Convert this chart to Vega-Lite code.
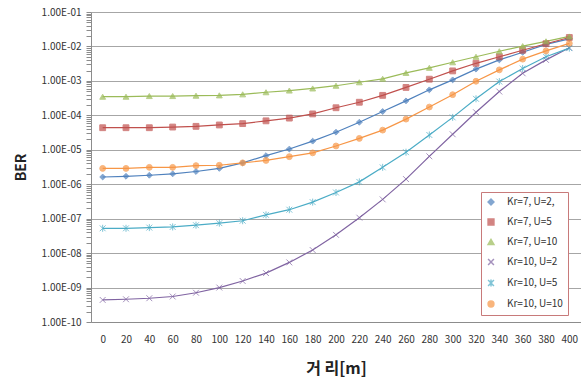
{
  "$schema": "https://vega.github.io/schema/vega-lite/v6.json",
  "autosize": "none",
  "width": 490,
  "height": 310,
  "padding": {"left": 91, "top": 12, "right": 0, "bottom": 60},
  "background": "white",
  "config": {
    "view": {"stroke": null},
    "font": "Noto Sans CJK KR",
    "axis": {"labelFont": "Noto Sans CJK KR", "titleFont": "Noto Sans CJK KR", "labelColor": "#333333", "titleColor": "#222222"}
  },
  "data": {"values": [
    {"s":"Kr=7, U=2,","d":0,"v":1.62e-6},{"s":"Kr=7, U=2,","d":20,"v":1.70e-6},{"s":"Kr=7, U=2,","d":40,"v":1.82e-6},{"s":"Kr=7, U=2,","d":60,"v":2.00e-6},{"s":"Kr=7, U=2,","d":80,"v":2.34e-6},{"s":"Kr=7, U=2,","d":100,"v":2.88e-6},{"s":"Kr=7, U=2,","d":120,"v":4.17e-6},{"s":"Kr=7, U=2,","d":140,"v":6.76e-6},{"s":"Kr=7, U=2,","d":160,"v":1.05e-5},{"s":"Kr=7, U=2,","d":180,"v":1.78e-5},{"s":"Kr=7, U=2,","d":200,"v":3.24e-5},{"s":"Kr=7, U=2,","d":220,"v":6.31e-5},{"s":"Kr=7, U=2,","d":240,"v":1.29e-4},{"s":"Kr=7, U=2,","d":260,"v":2.63e-4},{"s":"Kr=7, U=2,","d":280,"v":5.50e-4},{"s":"Kr=7, U=2,","d":300,"v":1.07e-3},{"s":"Kr=7, U=2,","d":320,"v":2.19e-3},{"s":"Kr=7, U=2,","d":340,"v":4.07e-3},{"s":"Kr=7, U=2,","d":360,"v":6.76e-3},{"s":"Kr=7, U=2,","d":380,"v":1.15e-2},{"s":"Kr=7, U=2,","d":400,"v":1.66e-2},
    {"s":"Kr=7, U=5","d":0,"v":4.37e-5},{"s":"Kr=7, U=5","d":20,"v":4.37e-5},{"s":"Kr=7, U=5","d":40,"v":4.37e-5},{"s":"Kr=7, U=5","d":60,"v":4.57e-5},{"s":"Kr=7, U=5","d":80,"v":4.79e-5},{"s":"Kr=7, U=5","d":100,"v":5.25e-5},{"s":"Kr=7, U=5","d":120,"v":5.75e-5},{"s":"Kr=7, U=5","d":140,"v":6.92e-5},{"s":"Kr=7, U=5","d":160,"v":8.32e-5},{"s":"Kr=7, U=5","d":180,"v":1.10e-4},{"s":"Kr=7, U=5","d":200,"v":1.66e-4},{"s":"Kr=7, U=5","d":220,"v":2.40e-4},{"s":"Kr=7, U=5","d":240,"v":3.80e-4},{"s":"Kr=7, U=5","d":260,"v":6.46e-4},{"s":"Kr=7, U=5","d":280,"v":1.12e-3},{"s":"Kr=7, U=5","d":300,"v":1.95e-3},{"s":"Kr=7, U=5","d":320,"v":3.24e-3},{"s":"Kr=7, U=5","d":340,"v":5.01e-3},{"s":"Kr=7, U=5","d":360,"v":7.76e-3},{"s":"Kr=7, U=5","d":380,"v":1.20e-2},{"s":"Kr=7, U=5","d":400,"v":1.82e-2},
    {"s":"Kr=7, U=10","d":0,"v":3.47e-4},{"s":"Kr=7, U=10","d":20,"v":3.47e-4},{"s":"Kr=7, U=10","d":40,"v":3.63e-4},{"s":"Kr=7, U=10","d":60,"v":3.63e-4},{"s":"Kr=7, U=10","d":80,"v":3.72e-4},{"s":"Kr=7, U=10","d":100,"v":3.80e-4},{"s":"Kr=7, U=10","d":120,"v":4.07e-4},{"s":"Kr=7, U=10","d":140,"v":4.68e-4},{"s":"Kr=7, U=10","d":160,"v":5.25e-4},{"s":"Kr=7, U=10","d":180,"v":6.03e-4},{"s":"Kr=7, U=10","d":200,"v":7.24e-4},{"s":"Kr=7, U=10","d":220,"v":9.12e-4},{"s":"Kr=7, U=10","d":240,"v":1.15e-3},{"s":"Kr=7, U=10","d":260,"v":1.70e-3},{"s":"Kr=7, U=10","d":280,"v":2.40e-3},{"s":"Kr=7, U=10","d":300,"v":3.47e-3},{"s":"Kr=7, U=10","d":320,"v":5.01e-3},{"s":"Kr=7, U=10","d":340,"v":7.24e-3},{"s":"Kr=7, U=10","d":360,"v":1.02e-2},{"s":"Kr=7, U=10","d":380,"v":1.41e-2},{"s":"Kr=7, U=10","d":400,"v":1.95e-2},
    {"s":"Kr=10, U=2","d":0,"v":4.37e-10},{"s":"Kr=10, U=2","d":20,"v":4.57e-10},{"s":"Kr=10, U=2","d":40,"v":4.90e-10},{"s":"Kr=10, U=2","d":60,"v":5.50e-10},{"s":"Kr=10, U=2","d":80,"v":7.08e-10},{"s":"Kr=10, U=2","d":100,"v":1.00e-9},{"s":"Kr=10, U=2","d":120,"v":1.55e-9},{"s":"Kr=10, U=2","d":140,"v":2.63e-9},{"s":"Kr=10, U=2","d":160,"v":5.37e-9},{"s":"Kr=10, U=2","d":180,"v":1.23e-8},{"s":"Kr=10, U=2","d":200,"v":3.39e-8},{"s":"Kr=10, U=2","d":220,"v":1.07e-7},{"s":"Kr=10, U=2","d":240,"v":3.63e-7},{"s":"Kr=10, U=2","d":260,"v":1.41e-6},{"s":"Kr=10, U=2","d":280,"v":6.46e-6},{"s":"Kr=10, U=2","d":300,"v":2.82e-5},{"s":"Kr=10, U=2","d":320,"v":1.23e-4},{"s":"Kr=10, U=2","d":340,"v":4.90e-4},{"s":"Kr=10, U=2","d":360,"v":1.66e-3},{"s":"Kr=10, U=2","d":380,"v":4.07e-3},{"s":"Kr=10, U=2","d":400,"v":9.12e-3},
    {"s":"Kr=10, U=5","d":0,"v":5.25e-8},{"s":"Kr=10, U=5","d":20,"v":5.25e-8},{"s":"Kr=10, U=5","d":40,"v":5.50e-8},{"s":"Kr=10, U=5","d":60,"v":5.75e-8},{"s":"Kr=10, U=5","d":80,"v":6.46e-8},{"s":"Kr=10, U=5","d":100,"v":7.41e-8},{"s":"Kr=10, U=5","d":120,"v":8.71e-8},{"s":"Kr=10, U=5","d":140,"v":1.29e-7},{"s":"Kr=10, U=5","d":160,"v":1.82e-7},{"s":"Kr=10, U=5","d":180,"v":3.02e-7},{"s":"Kr=10, U=5","d":200,"v":5.75e-7},{"s":"Kr=10, U=5","d":220,"v":1.17e-6},{"s":"Kr=10, U=5","d":240,"v":3.09e-6},{"s":"Kr=10, U=5","d":260,"v":8.51e-6},{"s":"Kr=10, U=5","d":280,"v":2.69e-5},{"s":"Kr=10, U=5","d":300,"v":8.71e-5},{"s":"Kr=10, U=5","d":320,"v":3.02e-4},{"s":"Kr=10, U=5","d":340,"v":9.55e-4},{"s":"Kr=10, U=5","d":360,"v":2.29e-3},{"s":"Kr=10, U=5","d":380,"v":5.01e-3},{"s":"Kr=10, U=5","d":400,"v":8.91e-3},
    {"s":"Kr=10, U=10","d":0,"v":2.88e-6},{"s":"Kr=10, U=10","d":20,"v":2.88e-6},{"s":"Kr=10, U=10","d":40,"v":3.09e-6},{"s":"Kr=10, U=10","d":60,"v":3.09e-6},{"s":"Kr=10, U=10","d":80,"v":3.47e-6},{"s":"Kr=10, U=10","d":100,"v":3.55e-6},{"s":"Kr=10, U=10","d":120,"v":4.17e-6},{"s":"Kr=10, U=10","d":140,"v":4.90e-6},{"s":"Kr=10, U=10","d":160,"v":6.31e-6},{"s":"Kr=10, U=10","d":180,"v":8.13e-6},{"s":"Kr=10, U=10","d":200,"v":1.29e-5},{"s":"Kr=10, U=10","d":220,"v":2.14e-5},{"s":"Kr=10, U=10","d":240,"v":3.72e-5},{"s":"Kr=10, U=10","d":260,"v":7.76e-5},{"s":"Kr=10, U=10","d":280,"v":1.74e-4},{"s":"Kr=10, U=10","d":300,"v":3.98e-4},{"s":"Kr=10, U=10","d":320,"v":9.77e-4},{"s":"Kr=10, U=10","d":340,"v":2.09e-3},{"s":"Kr=10, U=10","d":360,"v":4.27e-3},{"s":"Kr=10, U=10","d":380,"v":7.41e-3},{"s":"Kr=10, U=10","d":400,"v":1.23e-2}
  ]},
  "encoding": {
    "x": {
      "field": "d", "type": "quantitative",
      "scale": {"domain": [-10, 410], "nice": false, "zero": false},
      "axis": {
        "values": [0,20,40,60,80,100,120,140,160,180,200,220,240,260,280,300,320,340,360,380,400],
        "grid": false, "ticks": false, "tickSize": 0, "domainColor": "#8c8c8c",
        "labelFontSize": 10, "labelPadding": 12,
        "title": "거 리[m]", "titleFontSize": 16, "titleFontWeight": "bold", "titlePadding": 16
      }
    },
    "y": {
      "field": "v", "type": "quantitative",
      "scale": {"type": "log", "domain": [1e-10, 0.1], "nice": false},
      "axis": {
        "values": [1e-10,2e-10,3e-10,4e-10,5e-10,6e-10,7e-10,8e-10,9e-10,1e-9,2e-9,3e-9,4e-9,5e-9,6e-9,7e-9,8e-9,9e-9,1e-8,2e-8,3e-8,4e-8,5e-8,6e-8,7e-8,8e-8,9e-8,1e-7,2e-7,3e-7,4e-7,5e-7,6e-7,7e-7,8e-7,9e-7,1e-6,2e-6,3e-6,4e-6,5e-6,6e-6,7e-6,8e-6,9e-6,1e-5,2e-5,3e-5,4e-5,5e-5,6e-5,7e-5,8e-5,9e-5,1e-4,2e-4,3e-4,4e-4,5e-4,6e-4,7e-4,8e-4,9e-4,1e-3,2e-3,3e-3,4e-3,5e-3,6e-3,7e-3,8e-3,9e-3,1e-2,2e-2,3e-2,4e-2,5e-2,6e-2,7e-2,8e-2,9e-2,1e-1],
        "labelExpr": "abs(log(datum.value)/LN10 - round(log(datum.value)/LN10)) < 0.001 ? '1.00E-' + (round(-log(datum.value)/LN10) < 10 ? '0' : '') + round(-log(datum.value)/LN10) : ''",
        "labelOverlap": false, "labelFontSize": 10, "labelPadding": 5,
        "tickSize": 5,
        "tickColor": "#8c8c8c", "domainColor": "#8c8c8c",
        "gridColor": "#a6a6a6",
        "gridOpacity": {"condition": {"test": "abs(log(datum.value)/LN10 - round(log(datum.value)/LN10)) < 0.001", "value": 1}, "value": 0},
        "title": "BER", "titleFontSize": 14, "titleFontWeight": "bold", "titlePadding": 13
      }
    },
    "color": {
      "field": "s", "type": "nominal",
      "scale": {"domain": ["Kr=7, U=2,","Kr=7, U=5","Kr=7, U=10","Kr=10, U=2","Kr=10, U=5","Kr=10, U=10"],
                "range": ["#4F81BD","#C0504D","#9BBB59","#8064A2","#4BACC6","#F79646"]},
      "legend": {
        "title": null, "orient": "none", "legendX": 390, "legendY": 180,
        "fillColor": "white", "strokeColor": "#c87a7a",
        "padding": 5, "rowPadding": 8, "labelFontSize": 10, "labelColor": "#333333", "labelFont": "Noto Sans CJK KR",
        "symbolSize": 34, "labelOffset": 11
      }
    }
  },
  "layer": [
    {"mark": {"type": "line", "strokeWidth": 1.2}},
    {
      "mark": {"type": "point", "filled": true, "strokeWidth": 1},
      "encoding": {
        "shape": {
          "field": "s", "type": "nominal", "legend": null,
          "scale": {"domain": ["Kr=7, U=2,","Kr=7, U=5","Kr=7, U=10","Kr=10, U=2","Kr=10, U=5","Kr=10, U=10"],
                    "range": ["diamond","square","triangle-up","M-1,-1L1,1M-1,1L1,-1","M-1,-1L1,1M-1,1L1,-1M0,-1.2L0,1.2","circle"]}
        },
        "stroke": {
          "field": "s", "type": "nominal", "legend": null,
          "scale": {"domain": ["Kr=7, U=2,","Kr=7, U=5","Kr=7, U=10","Kr=10, U=2","Kr=10, U=5","Kr=10, U=10"],
                    "range": ["#4F81BD","#C0504D","#9BBB59","#8064A2","#4BACC6","#F79646"]}
        },
        "size": {"value": 34}
      }
    }
  ]
}
